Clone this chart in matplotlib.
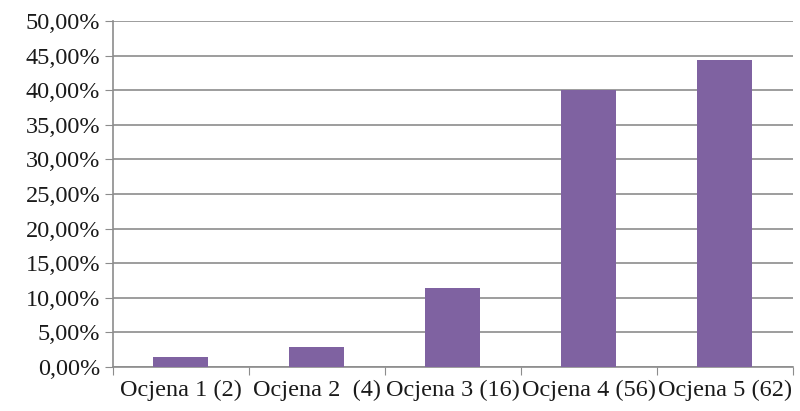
import matplotlib
matplotlib.use("Agg")
import matplotlib.pyplot as plt
from matplotlib.ticker import FuncFormatter, MultipleLocator
import numpy as np

categories = ["Ocjena 1 (2)", "Ocjena 2  (4)", "Ocjena 3 (16)", "Ocjena 4 (56)", "Ocjena 5 (62)"]
values = [1.43, 2.86, 11.43, 40.00, 44.29]

plt.rcParams['font.family'] = ['Liberation Serif', 'DejaVu Serif']

fig = plt.figure(figsize=(8, 4.11), dpi=100)
ax = fig.add_axes([0.141, 0.107, 0.85, 0.842])

x = np.arange(len(categories))
ax.bar(x, values, width=0.405, color="#7f62a1", zorder=3)

ax.set_xlim(-0.5, len(categories) - 0.5)
ax.set_ylim(0, 50)
ax.yaxis.set_major_locator(MultipleLocator(5))
ax.yaxis.set_major_formatter(FuncFormatter(lambda v, p: f"{v:.2f}%".replace(".", ",")))
ax.grid(axis="y", color="#8c8c8c", linewidth=1.2, zorder=0)

ax.set_xticks(np.arange(-0.5, len(categories) + 0.5, 1))
ax.set_xticklabels([])
ax.set_xticks(x, minor=True)
ax.set_xticklabels(categories, minor=True)
ax.tick_params(axis="x", which="minor", length=0, labelsize=17.5, pad=9, colors="#1a1a1a")
ax.tick_params(axis="x", which="major", length=6, color="#8c8c8c")
ax.tick_params(axis="y", length=6, color="#8c8c8c", labelsize=17.5, pad=3, labelcolor="#1a1a1a")

for s in ["top", "right"]:
    ax.spines[s].set_visible(False)
for s in ["left", "bottom"]:
    ax.spines[s].set_color("#8c8c8c")
    ax.spines[s].set_linewidth(1.2)

fig.savefig("out.png", dpi=100)
